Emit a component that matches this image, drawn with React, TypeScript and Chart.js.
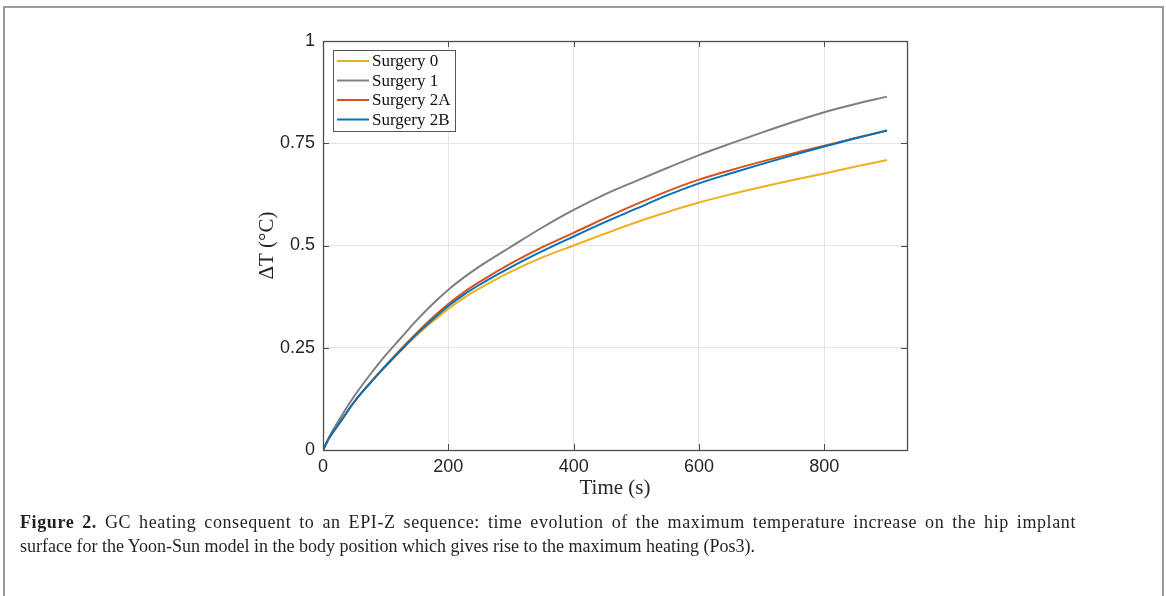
import { useEffect, useRef } from "react";
import { Chart, registerables } from "chart.js";

Chart.register(...registerables);

// ---- data ----
const TIMES = [0, 10, 25, 50, 75, 100, 125, 150, 175, 200, 225, 250, 300, 350, 400, 450, 500, 550, 600, 650, 700, 750, 800, 850, 900];
const SURGERY_0 = [0, 0.03, 0.063, 0.118, 0.163, 0.205, 0.244, 0.281, 0.314, 0.345, 0.372, 0.395, 0.436, 0.471, 0.5, 0.529, 0.557, 0.582, 0.605, 0.625, 0.643, 0.66, 0.676, 0.693, 0.709];
const SURGERY_1 = [0, 0.032, 0.072, 0.132, 0.184, 0.232, 0.275, 0.318, 0.357, 0.392, 0.422, 0.449, 0.497, 0.544, 0.587, 0.625, 0.658, 0.69, 0.721, 0.749, 0.776, 0.802, 0.826, 0.846, 0.864];
const SURGERY_2A = [0, 0.03, 0.063, 0.118, 0.164, 0.207, 0.248, 0.287, 0.324, 0.357, 0.386, 0.411, 0.456, 0.496, 0.531, 0.567, 0.601, 0.633, 0.661, 0.684, 0.705, 0.725, 0.744, 0.763, 0.781];
const SURGERY_2B = [0, 0.03, 0.063, 0.118, 0.163, 0.205, 0.245, 0.284, 0.319, 0.352, 0.38, 0.404, 0.447, 0.486, 0.522, 0.557, 0.59, 0.623, 0.652, 0.676, 0.699, 0.721, 0.742, 0.762, 0.781];
const SERIES_NAMES = ["Surgery 0", "Surgery 1", "Surgery 2A", "Surgery 2B"];
const SERIES_COLORS = ["#EDB120", "#7F7F7F", "#D95319", "#0072BD"];
const X_TICKS = [0, 200, 400, 600, 800];
const X_TICK_LABELS = ["0", "200", "400", "600", "800"];
const Y_TICKS = [0, 0.25, 0.5, 0.75, 1];
const Y_TICK_LABELS = ["0", "0.25", "0.5", "0.75", "1"];
const X_TITLE = "Time (s)";
const Y_TITLE = "\u0394T (\u00B0C)";
const CAPTION_BOLD = "Figure 2.";
const CAPTION_LINE1 = " GC heating consequent to an EPI-Z sequence: time evolution of the maximum temperature increase on the hip implant";
const CAPTION_LINE2 = "surface for the Yoon-Sun model in the body position which gives rise to the maximum heating (Pos3).";

const AXIS_COLOR = "#4d4d4d";
const TEXT_COLOR = "#262626";
const SERIF = '"Liberation Serif", "DejaVu Serif", serif';
const SANS = '"Liberation Sans", Arial, sans-serif';

const boxTicksPlugin = {
  id: "boxTicks",
  afterDatasetsDraw(chart: any) {
    const { ctx, chartArea } = chart;
    const { left, right, top, bottom } = chartArea;
    const xs = chart.scales.x;
    const ys = chart.scales.y;
    const len = 6;
    ctx.save();
    ctx.strokeStyle = AXIS_COLOR;
    ctx.lineWidth = 1;
    ctx.beginPath();
    X_TICKS.forEach((v) => {
      const px = Math.round(xs.getPixelForValue(v)) + 0.5;
      ctx.moveTo(px, bottom);
      ctx.lineTo(px, bottom - len);
      ctx.moveTo(px, top);
      ctx.lineTo(px, top + len);
    });
    Y_TICKS.forEach((v) => {
      const py = Math.round(ys.getPixelForValue(v)) + 0.5;
      ctx.moveTo(left, py);
      ctx.lineTo(left + len, py);
      ctx.moveTo(right, py);
      ctx.lineTo(right - len, py);
    });
    ctx.stroke();
    ctx.lineWidth = 1.3;
    ctx.strokeRect(Math.round(left) + 0.5, Math.round(top) + 0.5, Math.round(right - left), Math.round(bottom - top));
    ctx.restore();
  },
  afterDraw(chart: any) {
    const { ctx, chartArea } = chart;
    const bx = chartArea.left + 10;
    const by = chartArea.top + 9;
    const bw = 122;
    const bh = 81;
    ctx.save();
    ctx.fillStyle = "#ffffff";
    ctx.fillRect(bx, by, bw, bh);
    ctx.strokeStyle = "#555555";
    ctx.lineWidth = 1;
    ctx.strokeRect(bx + 0.5, by + 0.5, bw, bh);
    ctx.font = `17px ${SERIF}`;
    ctx.textBaseline = "middle";
    ctx.textAlign = "left";
    chart.data.datasets.forEach((ds: any, i: number) => {
      const cy = by + 11 + i * 19.5;
      ctx.strokeStyle = ds.borderColor;
      ctx.lineWidth = 2;
      ctx.beginPath();
      ctx.moveTo(bx + 4, cy);
      ctx.lineTo(bx + 36, cy);
      ctx.stroke();
      ctx.fillStyle = "#111111";
      ctx.fillText(ds.label, bx + 39, cy + 1);
    });
    ctx.restore();
  },
};

export default function App() {
  const ref = useRef<HTMLCanvasElement | null>(null);

  useEffect(() => {
    if (!ref.current) return;
    const seriesValues = [SURGERY_0, SURGERY_1, SURGERY_2A, SURGERY_2B];
    const chart = new Chart(ref.current, {
      type: "line",
      data: {
        datasets: seriesValues.map((vals, i) => ({
          label: SERIES_NAMES[i],
          data: TIMES.map((t, j) => ({ x: t, y: vals[j] })),
          borderColor: SERIES_COLORS[i],
          backgroundColor: SERIES_COLORS[i],
          borderWidth: 2,
          pointRadius: 0,
          fill: false,
          cubicInterpolationMode: "monotone" as const,
          order: seriesValues.length - i,
        })),
      },
      options: {
        animation: false,
        responsive: false,
        devicePixelRatio: 1,
        layout: { padding: { left: 243, top: 41, right: 259, bottom: 86 } },
        plugins: {
          legend: { display: false },
          tooltip: { enabled: false },
        },
        scales: {
          x: {
            type: "linear",
            min: 0,
            max: 932,
            afterBuildTicks: (s: any) => {
              s.ticks = X_TICKS.map((v) => ({ value: v }));
            },
            afterFit: (s: any) => {
              s.height = 60;
            },
            grid: { color: "#e4e4e4", lineWidth: 1, drawTicks: false },
            border: { display: false },
            ticks: {
              padding: 6,
              color: TEXT_COLOR,
              font: { family: SANS, size: 18 },
              maxRotation: 0,
              callback: (v: any) => {
                const k = X_TICKS.indexOf(Number(v));
                return k >= 0 ? X_TICK_LABELS[k] : "";
              },
            },
            title: {
              display: true,
              text: X_TITLE,
              color: TEXT_COLOR,
              font: { family: SERIF, size: 21 },
              padding: { top: 9, bottom: 9 },
            },
          },
          y: {
            type: "linear",
            min: 0,
            max: 1,
            afterBuildTicks: (s: any) => {
              s.ticks = Y_TICKS.map((v) => ({ value: v }));
            },
            afterFit: (s: any) => {
              s.width = 80;
            },
            grid: { color: "#e4e4e4", lineWidth: 1, drawTicks: false },
            border: { display: false },
            ticks: {
              padding: 8,
              color: TEXT_COLOR,
              font: { family: SANS, size: 18 },
              callback: (v: any) => {
                const k = Y_TICKS.indexOf(Number(v));
                return k >= 0 ? Y_TICK_LABELS[k] : "";
              },
            },
            title: {
              display: true,
              text: Y_TITLE,
              color: TEXT_COLOR,
              font: { family: SERIF, size: 21 },
              padding: { top: 12, bottom: 12 },
            },
          },
        },
      },
      plugins: [boxTicksPlugin],
    });
    return () => chart.destroy();
  }, []);

  return (
    <div style={{ position: "fixed", left: 0, top: 0, width: 1166, height: 596, background: "#ffffff", overflow: "hidden" }}>
      <div
        style={{
          position: "absolute",
          left: 3,
          top: 6,
          width: 1157,
          height: 620,
          border: "2px solid #9a9a9a",
        }}
      />
      <canvas ref={ref} width={1166} height={596} style={{ position: "absolute", left: 0, top: 0, width: 1166, height: 596 }} />
      <div
        style={{
          position: "absolute",
          left: 20,
          top: 510,
          fontFamily: SERIF,
          fontSize: 18,
          lineHeight: "24px",
          color: "#231f20",
          whiteSpace: "nowrap",
        }}
      >
        <div
          style={{
            width: 1056,
            whiteSpace: "normal",
            textAlign: "justify",
            textAlignLast: "justify",
            letterSpacing: "0.6px",
          }}
        >
          <b>{CAPTION_BOLD}</b>
          {CAPTION_LINE1}
        </div>
        <div>{CAPTION_LINE2}</div>
      </div>
    </div>
  );
}
